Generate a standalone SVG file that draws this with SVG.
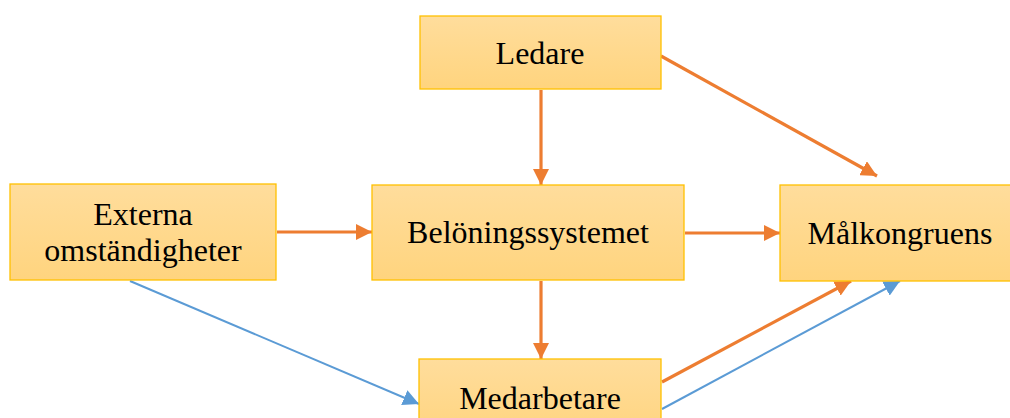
<svg xmlns="http://www.w3.org/2000/svg" width="1010" height="418" viewBox="0 0 1010 418">
<style>
.box{fill:url(#g);stroke:#FFC000;stroke-width:1.3}
.t{font-family:"Liberation Serif","Times New Roman",serif;font-size:32px;fill:#000;text-anchor:middle}
.o{stroke:#ED7D31;stroke-width:3.2;fill:none;marker-end:url(#ao)}
.b{stroke:#5B9BD5;stroke-width:2;fill:none;marker-end:url(#ab)}
</style>
<defs>
<linearGradient id="g" x1="0" y1="0" x2="0" y2="1">
<stop offset="0" stop-color="#FFDD9C"/>
<stop offset="1" stop-color="#FFD47E"/>
</linearGradient>
<marker id="ao" viewBox="0 0 10 10" refX="10" refY="5" markerWidth="5" markerHeight="5" orient="auto" markerUnits="strokeWidth">
<path d="M0,0 L10,5 L0,10 z" fill="#ED7D31"/>
</marker>
<marker id="ab" viewBox="0 0 10 10" refX="10" refY="5" markerWidth="8" markerHeight="8" orient="auto" markerUnits="strokeWidth">
<path d="M0,0 L10,5 L0,10 z" fill="#5B9BD5"/>
</marker>
</defs>
<g id="connectors">
<line class="o" x1="541" y1="90" x2="541" y2="185"/>
<line class="o" x1="661" y1="56" x2="877" y2="176"/>
<line class="o" x1="277" y1="232" x2="372" y2="232"/>
<line class="o" x1="685" y1="233" x2="780" y2="233"/>
<line class="o" x1="541" y1="281" x2="541" y2="359"/>
<line class="o" x1="662" y1="382" x2="851" y2="281"/>
<line class="b" x1="130" y1="281" x2="419" y2="404"/>
<line class="b" x1="662" y1="409" x2="900" y2="281"/>
</g>
<g id="ledare">
<rect class="box" x="420" y="16" width="241" height="73"/>
<text class="t" x="540" y="64">Ledare</text>
</g>
<g id="externa">
<rect class="box" x="10" y="184" width="266" height="96"/>
<text class="t" x="143" y="225">Externa</text>
<text class="t" x="143" y="261">omständigheter</text>
</g>
<g id="beloning">
<rect class="box" x="372" y="185" width="312" height="95"/>
<text class="t" x="528" y="243">Belöningssystemet</text>
</g>
<g id="malkongruens">
<rect class="box" x="780" y="185" width="240" height="96"/>
<text class="t" x="900" y="244">Målkongruens</text>
</g>
<g id="medarbetare">
<rect class="box" x="419" y="359" width="242" height="80"/>
<text class="t" x="540" y="409">Medarbetare</text>
</g>
</svg>
